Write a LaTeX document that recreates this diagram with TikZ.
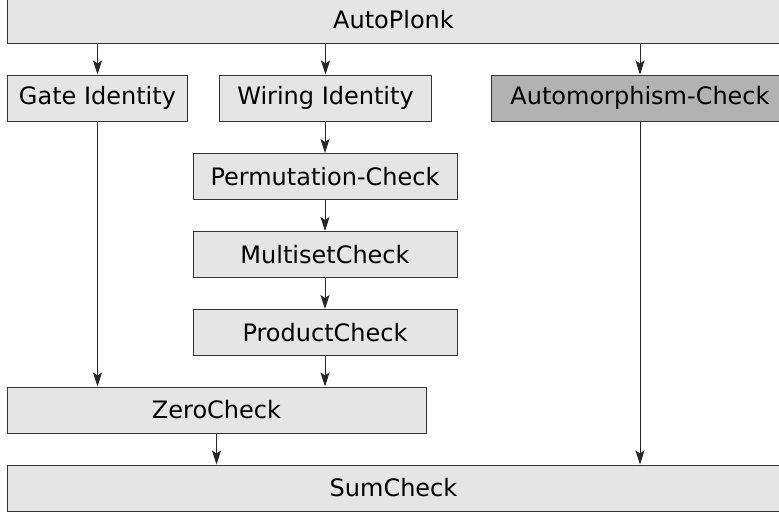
\documentclass[tikz,border=0pt]{standalone}
\usepackage{fontspec}
\setmainfont{DejaVu Sans}
\usetikzlibrary{arrows.meta, positioning}

\begin{document}
\begin{tikzpicture} [x=1pt, y=-1pt,
            box/.style = {draw=black!80, fill=black!10, line width=1pt,
                minimum height=46pt, inner sep=0pt,
                font=\fontsize{24}{28}\selectfont},
            arr/.style = {draw=black!85, line width=1pt,
                -{Stealth[length=14pt, width=9pt, inset=3pt]}}]

            \useasboundingbox (0,0) rectangle (779,515);
            \clip (0,0) rectangle (779,515);

            % Top
            \node (plonk) [box, minimum width=773pt] at (393.5,20) {AutoPlonk};

            % Second row
            \node (gate) [box, minimum width=180pt] at (97.5,98) {Gate Identity};
            \node (wiring) [box, minimum width=212pt] at (325.5,98) {Wiring Identity};
            \node (autom) [box, fill=black!30,
                minimum width=298pt] at (640,98) {Automorphism-Check};

            % Chain
            \node (perm) [box, minimum width=264pt] at (325,176.5) {Permutation-Check};
            \node (multiset) [box, minimum width=264pt,
                below = 31pt of perm] {MultisetCheck};
            \node (product) [box, minimum width=264pt,
                below = 31pt of multiset] {ProductCheck};

            % Bottom
            \node (zero) [box, minimum width=419pt] at (216.5,410) {ZeroCheck};
            \node (sum) [box, minimum width=773pt] at (393.5,488) {SumCheck};

            % Arrows
            \draw [arr] (gate.north |- plonk.south) -- (gate.north);
            \draw [arr] (wiring.north |- plonk.south) -- (wiring.north);
            \draw [arr] (autom.north |- plonk.south) -- (autom.north);
            \draw [arr] (wiring.south -| perm.north) -- (perm.north);
            \draw [arr] (perm) -- (multiset);
            \draw [arr] (multiset) -- (product);
            \draw [arr] (product.south) -- (product.south |- zero.north);
            \draw [arr] (gate.south) -- (gate.south |- zero.north);
            \draw [arr] (zero.south) -- (zero.south |- sum.north);
            \draw [arr] (autom.south) -- (autom.south |- sum.north);
        \end{tikzpicture}
\end{document}
